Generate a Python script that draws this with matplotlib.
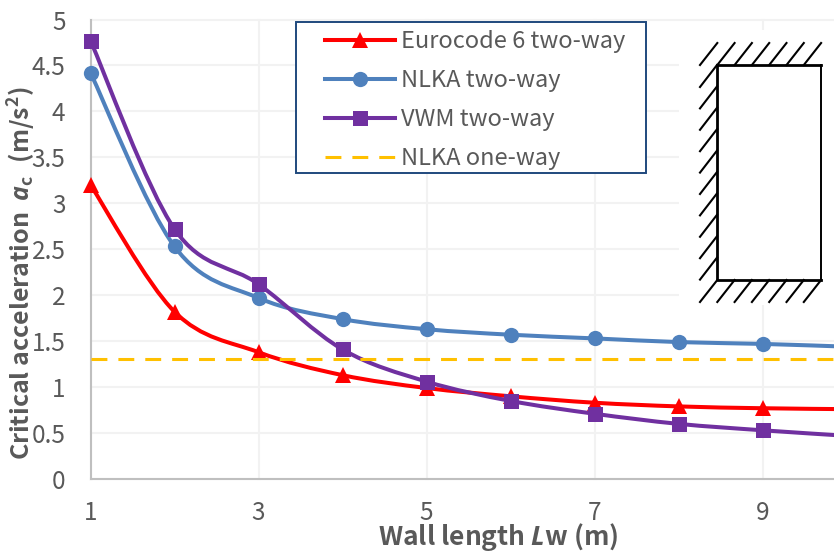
import numpy as np
import matplotlib
matplotlib.use("Agg")
import matplotlib.pyplot as plt
from matplotlib.lines import Line2D
from matplotlib.patches import PathPatch, Rectangle
from matplotlib.path import Path

wall_length = [1, 2, 3, 4, 5, 6, 7, 8, 9, 10]
eurocode = [3.2, 1.82, 1.38, 1.13, 0.99, 0.9, 0.83, 0.79, 0.77, 0.76]
nlka = [4.42, 2.53, 1.97, 1.74, 1.63, 1.57, 1.53, 1.49, 1.47, 1.44]
vwm = [4.77, 2.72, 2.12, 1.41, 1.06, 0.85, 0.71, 0.6, 0.53, 0.47]
nlka_one_way = [1.31, 1.31]
one_way_x = [1, 10]
x_ticks = [1, 3, 5, 7, 9]
y_ticks = [0, 0.5, 1, 1.5, 2, 2.5, 3, 3.5, 4, 4.5, 5]
y_labels = ["0", "0.5", "1", "1.5", "2", "2.5", "3", "3.5", "4", "4.5", "5"]

W, H = 834, 552
GRAY = "#595959"
DASH = (5.2, 3.6)

plt.rcParams['font.family'] = ['Noto Sans CJK KR', 'DejaVu Sans']
plt.rcParams['mathtext.fontset'] = 'custom'
plt.rcParams['mathtext.rm'] = 'Noto Sans CJK KR:bold'
plt.rcParams['mathtext.bf'] = 'Noto Sans CJK KR:bold'
plt.rcParams['mathtext.it'] = 'Open Sans:italic:bold'
plt.rcParams['mathtext.bfit'] = 'Open Sans:italic:bold'


def smooth_path(x, y):
    # same idea as the smoothed line option in a spreadsheet
    pts = np.column_stack([x, y]).astype(float)
    verts = [pts[0]]
    codes = [Path.MOVETO]
    for i in range(len(pts) - 1):
        before = pts[max(i - 1, 0)]
        after = pts[min(i + 2, len(pts) - 1)]
        verts.append(pts[i] + (pts[i + 1] - before) / 6)
        verts.append(pts[i + 1] - (after - pts[i]) / 6)
        verts.append(pts[i + 1])
        codes += [Path.CURVE4] * 3
    return Path(verts, codes)


def draw_series(ax, x, y, color, marker, size, z):
    ax.add_patch(PathPatch(smooth_path(x, y), fill=False, edgecolor=color, lw=2.9,
                           clip_on=False, zorder=z))
    ax.plot(x, y, linestyle="none", marker=marker, color=color, ms=size,
            mew=0, clip_on=False, zorder=z)


def fx(v):
    return v / W


def fy(v):
    return 1 - v / H


def sketch_line(xs, ys, lw):
    fig.add_artist(Line2D([fx(v) for v in xs], [fy(v) for v in ys], transform=fig.transFigure,
                          color="black", lw=lw, zorder=9))


fig = plt.figure(figsize=(W / 100, H / 100), dpi=100)
ax = fig.add_axes([90.5 / W, 1 - 479 / H, (W - 90.5) / W, (479 - 19.5) / H])
ax.set_xlim(1, 1 + (W - 90.5) / 84)
ax.set_ylim(0, 5)

ax.set_xticks(x_ticks)
ax.set_yticks(y_ticks)
ax.set_yticklabels(y_labels)
ax.grid(True, color="#F2F2F2", lw=1.5, zorder=0)
ax.set_axisbelow(True)
ax.tick_params(length=0, labelsize=17.5, labelcolor=GRAY, pad=18)
ax.tick_params(axis='x', pad=15)
for s in ["top", "right"]:
    ax.spines[s].set_visible(False)
for s in ["left", "bottom"]:
    ax.spines[s].set_color("#BFBFBF")
    ax.spines[s].set_linewidth(1.5)
for t in ax.yaxis.get_gridlines() + ax.xaxis.get_gridlines():
    t.set_clip_on(False)

draw_series(ax, wall_length, eurocode, "#FF0000", "^", 12, 4)
draw_series(ax, wall_length, nlka, "#4F81BD", "o", 11, 5)
draw_series(ax, wall_length, vwm, "#7030A0", "s", 10.8, 6)
ax.plot(one_way_x, nlka_one_way, color="#FFC000", lw=2.2, dashes=DASH, zorder=7)

# white panel behind the wall sketch, it hides the gridlines
fig.add_artist(Rectangle((fx(679), fy(305)), (W - 679) / W, 275 / H, transform=fig.transFigure,
                         facecolor="white", edgecolor="none", zorder=8))

# wall sketch: fixed on top, left and bottom
sketch_line([821, 717, 717, 821], [65, 65, 280, 280], 2.0)
sketch_line([821, 821], [65, 280], 1.4)
for i in range(7):
    x0 = 700 + 17.3 * i
    sketch_line([x0, x0 + 17.3], [65, 43], 1.5)
    sketch_line([x0, x0 + 17.3], [302, 280], 1.5)
for i in range(10):
    y0 = 87 + 21.4 * i
    sketch_line([700, 717], [y0, y0 - 22], 1.5)

# legend frame is its own box, the wide side margins don't fit legend borderpad
fig.add_artist(Rectangle((fx(295.5), fy(173)), 350 / W, 151 / H, transform=fig.transFigure,
                         facecolor="white", edgecolor="#1F497D", lw=1.4, zorder=10))
handles = [
    Line2D([], [], color="#FF0000", lw=2.9, marker="^", ms=12, mew=0),
    Line2D([], [], color="#4F81BD", lw=2.9, marker="o", ms=11, mew=0),
    Line2D([], [], color="#7030A0", lw=2.9, marker="s", ms=10.8, mew=0),
    Line2D([], [], color="#FFC000", lw=2.2, dashes=DASH),
]
labels = ["Eurocode 6 two-way", "NLKA two-way", "VWM two-way", "NLKA one-way"]
leg = fig.legend(handles, labels, loc="upper left", bbox_to_anchor=(fx(325), fy(30)),
                 fontsize=17, labelcolor=GRAY, frameon=False,
                 handlelength=2.96, handletextpad=0.27, labelspacing=0.68,
                 borderpad=0, borderaxespad=0)
leg.set_zorder(11)

fig.text(fx(498), fy(537), r"Wall length $\mathit{L}$w (m)", ha="center", va="center",
         fontsize=19, fontweight="bold", color=GRAY)
fig.text(fx(22), fy(273), r"Critical acceleration  $\mathbfit{a}_{\mathbf{c}}\ $ (m/s$^{\mathbf{2}}$)",
         rotation=90, ha="center", va="center", fontsize=18, fontweight="bold", color=GRAY)

fig.savefig("out.png", dpi=100)
